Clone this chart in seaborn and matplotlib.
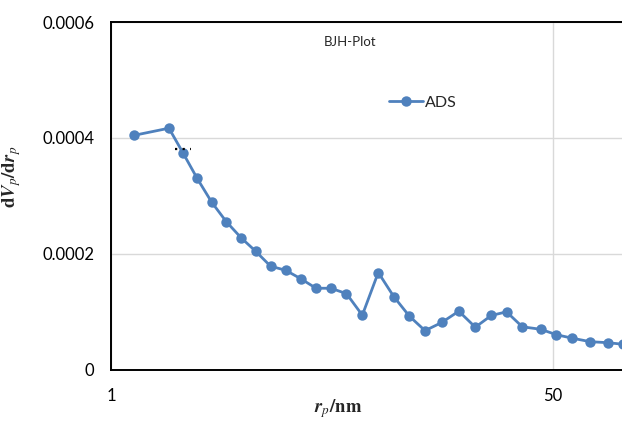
import matplotlib
matplotlib.use("Agg")
import matplotlib.pyplot as plt
import seaborn as sns
import pandas as pd

# BJH pore size distribution (adsorption branch)
pore_radius_nm = [1.23, 1.67, 1.89, 2.145, 2.438, 2.775, 3.168, 3.599, 4.104, 4.694,
                  5.361, 6.138, 7.010, 8.039, 9.247, 10.65, 12.21, 14.02, 16.11, 18.67,
                  21.72, 25.14, 28.95, 33.14, 38.10, 44.85, 51.48, 59.33, 69.56, 81.20, 93.3]
dv_dr = [4.047e-4, 4.169e-4, 3.745e-4, 3.302e-4, 2.893e-4, 2.557e-4, 2.276e-4, 2.047e-4,
         1.790e-4, 1.719e-4, 1.574e-4, 1.410e-4, 1.409e-4, 1.316e-4, 0.945e-4, 1.681e-4,
         1.267e-4, 0.929e-4, 0.678e-4, 0.819e-4, 1.014e-4, 0.738e-4, 0.940e-4, 1.003e-4,
         0.745e-4, 0.702e-4, 0.609e-4, 0.548e-4, 0.488e-4, 0.471e-4, 0.443e-4]
series_name = "ADS"
chart_title = "BJH-Plot"

x_ticks = [1, 50]
x_tick_labels = ["1", "50"]
y_ticks = [0, 0.0002, 0.0004, 0.0006]
y_tick_labels = ["0", "0.0002", "0.0004", "0.0006"]

df = pd.DataFrame({"r": pore_radius_nm, "dvdr": dv_dr, "series": series_name})

sns.set_style("white")
plt.rcParams["font.family"] = ["Lato", "DejaVu Sans"]
plt.rcParams["mathtext.fontset"] = "stix"

W, H = 622, 422
fig = plt.figure(figsize=(W / 100, H / 100), dpi=100)
# plot area runs past the right edge of the canvas
ax = fig.add_axes([111 / W, (H - 370) / H, 884 / W, 348 / H])

blue = "#4F81BD"
sns.lineplot(data=df, x="r", y="dvdr", hue="series", palette=[blue], marker="o",
             markersize=7.5, markeredgewidth=0, linewidth=2.0, ax=ax, zorder=3)

ax.set_xscale("log", base=50)
ax.set_xlim(1, 2500)
ax.set_ylim(0, 0.0006)
ax.set_xticks(x_ticks)
ax.set_xticklabels(x_tick_labels)
ax.minorticks_off()
ax.set_yticks(y_ticks)
ax.set_yticklabels(y_tick_labels)
ax.tick_params(axis="both", length=0, labelsize=12, colors="black")
ax.tick_params(axis="y", pad=12)
ax.tick_params(axis="x", pad=13)

ax.grid(True, color="#d9d9d9", linewidth=1.0, zorder=0)
ax.set_axisbelow(True)
for side in ["left", "top", "bottom"]:
    ax.spines[side].set_color("black")
    ax.spines[side].set_linewidth(1.4)
ax.spines["right"].set_visible(False)

# small dotted mark just above the third point
i = 2
ax.hlines(dv_dr[i] + 0.07e-4, pore_radius_nm[i] / 1.07, pore_radius_nm[i] * 1.07,
          colors="black", linestyles=(0, (1.0, 2.4)), linewidth=1.6, zorder=4)

ax.set_xlabel(r"$\mathbfit{r}_{\mathit{p}}\mathbf{/nm}$", fontsize=13.5)
ax.xaxis.set_label_coords(0.2568, -0.078)
ax.set_ylabel(r"$\mathbf{d}\mathbfit{V}_{\mathit{p}}\mathbf{/d}\mathbfit{r}_{\mathit{p}}$", fontsize=13.5)
ax.yaxis.set_label_coords(-0.1, 0.555)

ax.text(0.2704, 0.942, chart_title, transform=ax.transAxes, ha="center", va="center",
        fontsize=9.5)

leg = ax.legend(loc="center left", bbox_to_anchor=(0.3145, 0.768), frameon=False,
                fontsize=11.5, handlelength=2.1, handletextpad=0.15, borderpad=0,
                borderaxespad=0)

fig.savefig("out.png", dpi=100)
